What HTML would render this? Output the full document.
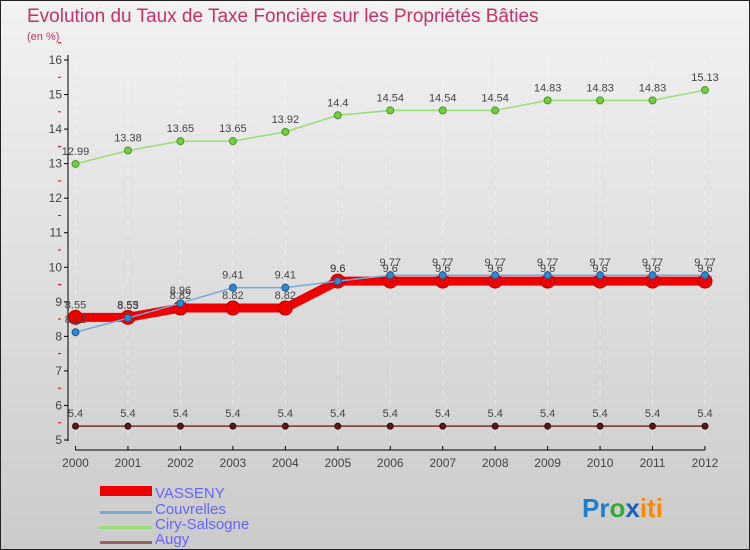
<!DOCTYPE html>
<html><head><meta charset="utf-8"><style>
body{margin:0;}
#c{position:relative;width:750px;height:550px;overflow:hidden;}
svg text{font-family:"Liberation Sans",sans-serif;}
</style></head><body>
<div id="c">
<svg id="s" width="750" height="550" xmlns="http://www.w3.org/2000/svg">
<defs><linearGradient id="bg" x1="0" y1="0" x2="0" y2="1"><stop offset="0" stop-color="#f2f2f2"/><stop offset="1" stop-color="#cbcbcb"/></linearGradient></defs>
<rect x="0.5" y="0.5" width="749" height="549" fill="url(#bg)" stroke="#222"/>
<text x="27" y="22" font-size="19" fill="#c8306a">Evolution du Taux de Taxe Foncière sur les Propriétés Bâties</text>
<text x="27" y="40" font-size="11" fill="#c8306a">(en %)</text>
<g id="grid"></g><g id="axes"></g><g id="series"></g>
<g>
<rect x="100" y="486" width="52" height="10" fill="#e00"/>
<text x="155" y="498" font-size="15" fill="#66f">VASSENY</text>
<rect x="100" y="511" width="52" height="3" fill="#7aaad0"/>
<text x="155" y="514" font-size="15" fill="#66f">Couvrelles</text>
<rect x="100" y="526" width="52" height="3" fill="#99dd77"/>
<text x="155" y="529" font-size="15" fill="#66f">Ciry-Salsogne</text>
<rect x="100" y="541" width="52" height="3" fill="#996060"/>
<text x="155" y="544" font-size="15" fill="#66f">Augy</text>
</g>
<text x="582" y="517" font-size="26" font-weight="bold"><tspan fill="#1f7fcf">Pr</tspan><tspan fill="#3a3">o</tspan><tspan fill="#1f5fbf">x</tspan><tspan fill="#f80">iti</tspan></text>
</svg></div>
<script>
const years=[2000,2001,2002,2003,2004,2005,2006,2007,2008,2009,2010,2011,2012];
const vasseny=[8.55,8.55,8.82,8.82,8.82,9.6,9.6,9.6,9.6,9.6,9.6,9.6,9.6];
const couvrelles=[8.12,8.53,8.96,9.41,9.41,9.6,9.77,9.77,9.77,9.77,9.77,9.77,9.77];
const ciry=[12.99,13.38,13.65,13.65,13.92,14.4,14.54,14.54,14.54,14.83,14.83,14.83,15.13];
const augy=[5.4,5.4,5.4,5.4,5.4,5.4,5.4,5.4,5.4,5.4,5.4,5.4,5.4];
const yTicks=[5,6,7,8,9,10,11,12,13,14,15,16];
const NS="http://www.w3.org/2000/svg";
function X(i){return 75.5+i*(705-75.5)/(years.length-1);}
function Y(v){return 440-(v-5)*(440-60)/11;}
function mk(t,a,p){const e=document.createElementNS(NS,t);for(const k in a)e.setAttribute(k,a[k]);p.appendChild(e);return e;}
const axes=document.getElementById('axes'),grid=document.getElementById('grid'),ser=document.getElementById('series');
years.forEach((y,i)=>{const l=mk('line',{x1:X(i),x2:X(i),y1:60,y2:440,stroke:'#fff','stroke-opacity':0.35,'stroke-dasharray':'5,5','stroke-width':1},grid);

});
const ya=mk('line',{x1:68,x2:68,y1:55,y2:441,stroke:'#000'},axes);


const xa=mk('line',{x1:75.5,x2:705,y1:450,y2:450,stroke:'#000'},axes);


yTicks.forEach(v=>{mk('line',{x1:64,x2:68,y1:Y(v),y2:Y(v),stroke:'#000'},axes);
mk('line',{x1:58,x2:61,y1:Y(v+0.5),y2:Y(v+0.5),stroke:'#e00'},axes);
const t=mk('text',{x:62,y:Y(v)+4,'font-size':12,'text-anchor':'end',fill:'#444'},axes);t.textContent=v;

});
years.forEach((y,i)=>{mk('line',{x1:X(i),x2:X(i),y1:446,y2:450,stroke:'#000'},axes);
const t=mk('text',{x:X(i),y:467,'font-size':12,'text-anchor':'middle',fill:'#444'},axes);t.textContent=y;

});
function draw(vals,name,color,w,r,dot,stroke){
const g=mk('g',{},ser);


mk('polyline',{points:vals.map((v,i)=>X(i)+','+Y(v)).join(' '),fill:'none',stroke:color,'stroke-width':w},g);
vals.forEach((v,i)=>{const c=mk('circle',{cx:X(i),cy:Y(v),r:r,fill:dot,stroke:stroke,'stroke-width':1},g);


const t=mk('text',{x:X(i),y:Y(v)-9,'font-size':11,'text-anchor':'middle',fill:'#444'},g);t.textContent=v;

});}
draw(augy,'augy','#7a3030',1.5,3,'#5a1818','#3a0808');
draw(ciry,'ciry','#99dd77',1.5,3.5,'#77cc44','#449922');
draw(vasseny,'vasseny','#ee0000',9,7,'#ee0000','#b00');
draw(couvrelles,'couvrelles','#77aadd',1.5,3.5,'#3388cc','#1a5a99');
</script></body></html>
